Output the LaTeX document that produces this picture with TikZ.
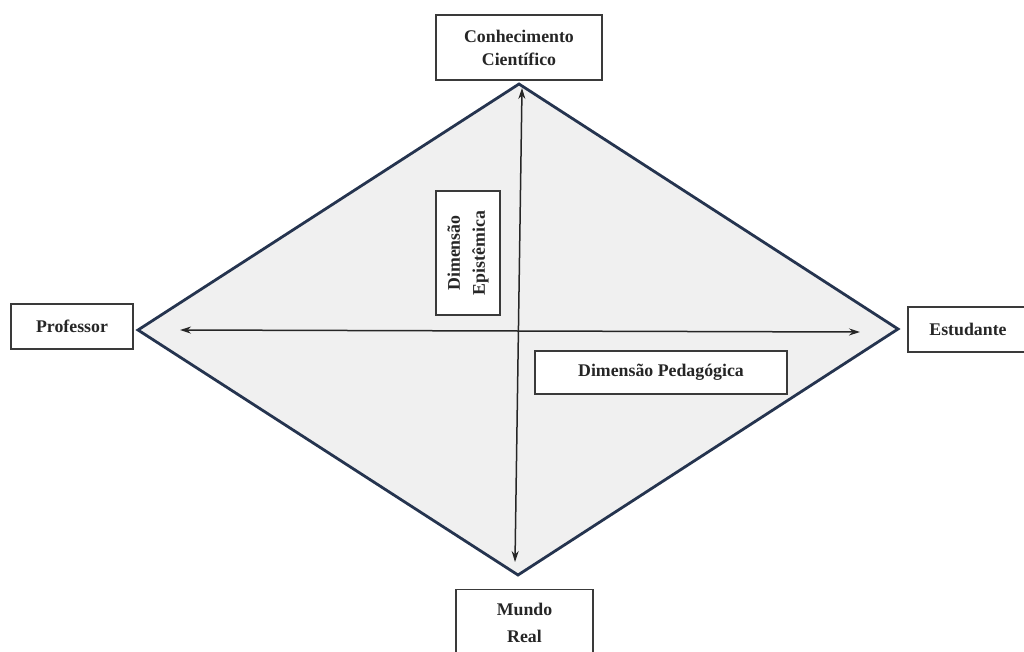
\documentclass[tikz,border=0pt]{standalone}
\usepackage{fontspec}
\setmainfont{Liberation Serif}
\usetikzlibrary{arrows.meta}
\definecolor{navy}{HTML}{25344F}
\definecolor{dfill}{HTML}{F0F0F0}
\definecolor{boxline}{HTML}{3A3A3A}
\tikzset{
  lbl/.style={draw=boxline, line width=1.4pt, fill=white, inner sep=0pt, align=center,
    font=\fontsize{17.8}{23}\selectfont\bfseries, text=black!85},
  txt/.style={font=\fontsize{17.8}{23}\selectfont\bfseries, text=black!85},
  dimarrow/.style={line width=1.5pt, black!85, {Stealth[length=11pt,width=7pt]}-{Stealth[length=11pt,width=7pt]}},
  diam/.style={draw=navy, line width=2.8pt, fill=dfill, line join=miter}
}
\begin{document}
\begin{tikzpicture}[x=1pt,y=-1pt]
\path[use as bounding box] (0,0) rectangle (1024,651);
\coordinate (T) at (519,84);
\coordinate (L) at (138,330);
\coordinate (R) at (898,329);
\coordinate (B) at (518,575);
\draw[diam] (T) -- (R) -- (B) -- (L) -- cycle;
\coordinate (va) at (522,88);
\coordinate (vb) at (515,562);
\coordinate (ha) at (180,330);
\coordinate (hb) at (860,332);
\draw[dimarrow] (va) -- (vb);
\draw[dimarrow] (ha) -- (hb);
\node[lbl, minimum width=166pt, minimum height=65pt] (ck) at (519,47.5) {Conhecimento\\Científico};
\node[lbl, minimum width=122pt, minimum height=45pt] (prof) at (72,326.5) {Professor};
\node[lbl, minimum width=120pt, minimum height=45pt] (est) at (968,329.5) {Estudante};
\node[lbl, minimum width=137pt, minimum height=80pt, anchor=north] (mr) at (524.5,589) {};
\node[txt] (mr1) at (524.5,609) {Mundo};
\node[txt] (mr2) at (524.5,636) {Real};
\node[lbl, rotate=90, minimum width=124pt, minimum height=64pt, font=\fontsize{17.8}{25}\selectfont\bfseries] (ep) at (468,253) {Dimensão\\Epistêmica};
\node[lbl, minimum width=252pt, minimum height=43pt] (ped) at (661,372.5) {Dimensão Pedagógica};
\end{tikzpicture}
\end{document}
